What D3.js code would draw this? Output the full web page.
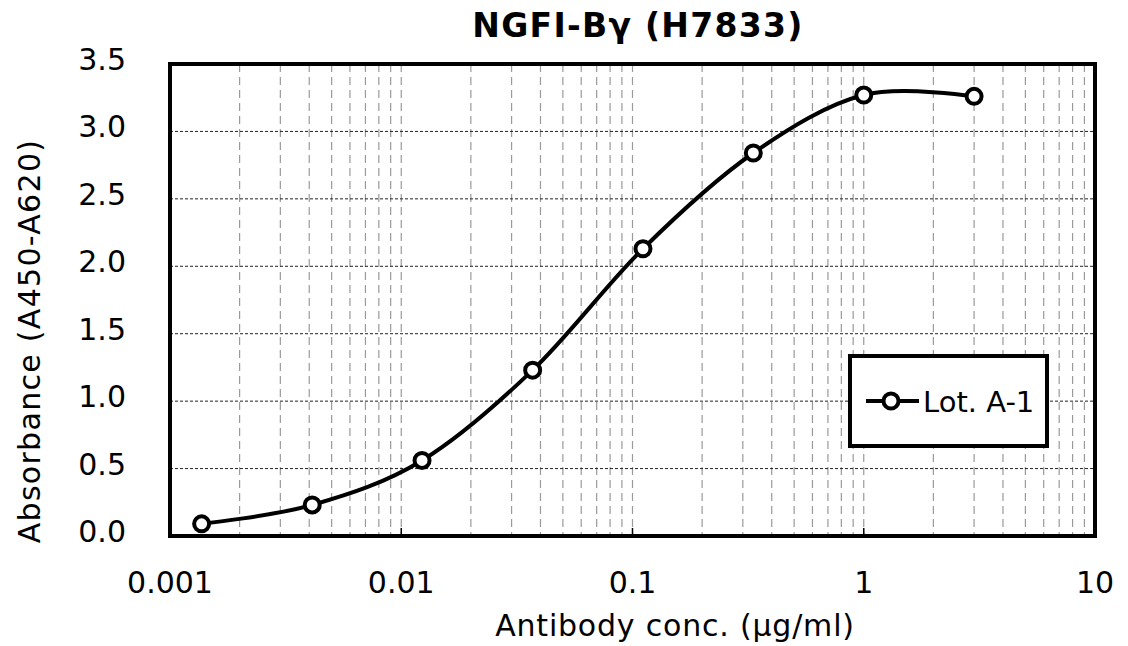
<!DOCTYPE html>
<html>
<head>
<meta charset="utf-8">
<script src="https://cdn.jsdelivr.net/npm/d3@7"></script>
<style>
  body { margin: 0; background: #fff; }
  text { font-family: "DejaVu Sans", Verdana, sans-serif; fill: #000; }
</style>
</head>
<body>
<script>
// antibody dilution series and absorbance
const conc = [0.00137, 0.00412, 0.0123, 0.037, 0.111, 0.333, 1, 3]
const absorbance = [0.09, 0.23, 0.56, 1.23, 2.13, 2.84, 3.27, 3.26]
const xTicks = [0.001, 0.01, 0.1, 1, 10]
const yTicks = [0, 0.5, 1, 1.5, 2, 2.5, 3, 3.5]
const seriesName = "Lot. A-1"

const width = 1128, height = 646
const m = {left: 170, right: 1095, top: 64, bottom: 536}

const svg = d3.select("body").append("svg")
  .attr("width", width).attr("height", height)

const x = d3.scaleLog().domain([0.001, 10]).range([m.left, m.right])
const y = d3.scaleLinear().domain([0, 3.5]).range([m.bottom, m.top])

// vertical grid at every 1..9 x decade
let vgrid = []
for (let e = -3; e < 1; e++) {
  for (let k = 1; k <= 9; k++) {
    if (e === -3 && k === 1) continue
    vgrid.push(k * Math.pow(10, e))
  }
}
svg.append("g").selectAll("line").data(vgrid).join("line")
  .attr("x1", d => x(d)).attr("x2", d => x(d))
  .attr("y1", m.top).attr("y2", m.bottom)
  .attr("stroke", "#9a9a9a").attr("stroke-width", 1.2)
  .attr("stroke-dasharray", "8,5")

// horizontal grid, fine dotted
svg.append("g").selectAll("line").data(yTicks.slice(1, -1)).join("line")
  .attr("x1", m.left).attr("x2", m.right)
  .attr("y1", d => y(d)).attr("y2", d => y(d))
  .attr("stroke", "#222").attr("stroke-width", 1)
  .attr("stroke-dasharray", "3,2")

// small decade ticks on bottom axis
svg.append("g").selectAll("line").data(xTicks.slice(1, -1)).join("line")
  .attr("x1", d => x(d)).attr("x2", d => x(d))
  .attr("y1", m.bottom).attr("y2", m.bottom - 8)
  .attr("stroke", "#000").attr("stroke-width", 1.5)

// plot frame
svg.append("rect")
  .attr("x", m.left).attr("y", m.top)
  .attr("width", m.right - m.left).attr("height", m.bottom - m.top)
  .attr("fill", "none").attr("stroke", "#000").attr("stroke-width", 4)

// tick labels
svg.append("g").selectAll("text").data(xTicks).join("text")
  .attr("x", d => x(d)).attr("y", 593)
  .attr("text-anchor", "middle")
  .style("font-size", "30px")
  .text(d => d3.format("~g")(d))

svg.append("g").selectAll("text").data(yTicks).join("text")
  .attr("x", 126).attr("y", d => y(d) + 6)
  .attr("text-anchor", "end")
  .style("font-size", "30px")
  .text(d => d.toFixed(1))

// curve
const pts = conc.map((c, i) => [x(c), y(absorbance[i])])
svg.append("path")
  .attr("d", d3.line().curve(d3.curveCardinal.tension(0))(pts))
  .attr("fill", "none").attr("stroke", "#000").attr("stroke-width", 4)

svg.append("g").selectAll("circle").data(pts).join("circle")
  .attr("cx", d => d[0]).attr("cy", d => d[1]).attr("r", 7.5)
  .attr("fill", "#fff").attr("stroke", "#000").attr("stroke-width", 4)

// legend
const lg = svg.append("g")
lg.append("rect")
  .attr("x", 850).attr("y", 356).attr("width", 197).attr("height", 90)
  .attr("fill", "#fff").attr("stroke", "#000").attr("stroke-width", 4)
lg.append("line")
  .attr("x1", 866).attr("x2", 919).attr("y1", 401).attr("y2", 401)
  .attr("stroke", "#000").attr("stroke-width", 4)
lg.append("circle")
  .attr("cx", 891).attr("cy", 401).attr("r", 7.5)
  .attr("fill", "#fff").attr("stroke", "#000").attr("stroke-width", 4)
lg.append("text")
  .attr("x", 923).attr("y", 412)
  .style("font-size", "29px")
  .text(seriesName)

// titles
svg.append("text")
  .attr("x", 638).attr("y", 37)
  .attr("text-anchor", "middle")
  .style("font-size", "33px").style("font-weight", "bold")
  .style("letter-spacing", "1.3px")
  .text("NGFI-Bγ (H7833)")

svg.append("text")
  .attr("x", 675).attr("y", 636)
  .attr("text-anchor", "middle")
  .style("font-size", "30px")
  .style("letter-spacing", "0.8px")
  .text("Antibody conc. (μg/ml)")

svg.append("text")
  .attr("transform", "translate(40,341) rotate(-90)")
  .attr("text-anchor", "middle")
  .style("font-size", "30px")
  .style("letter-spacing", "1.3px")
  .text("Absorbance (A450-A620)")
</script>
</body>
</html>
